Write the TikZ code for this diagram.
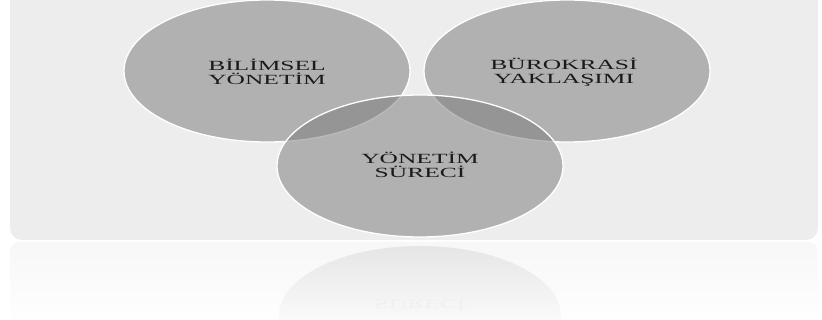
\documentclass[tikz,border=0pt]{standalone}
\usepackage{fontspec}
\setmainfont{Liberation Serif}
\usetikzlibrary{shapes.geometric}
\definecolor{panel}{HTML}{EDEDED}
\definecolor{reflpanel}{HTML}{F7F7F7}
\definecolor{circfill}{HTML}{7D7D7D}
\definecolor{txt}{HTML}{1A1A1A}
\tikzset{
  venn/.style={ellipse, minimum width=286pt, minimum height=142pt, inner sep=0pt,
    fill=circfill, fill opacity=0.53, draw=white, draw opacity=1, line width=1.3pt},
  lbl/.style={text=txt, align=center, font=\fontsize{14}{13.5}\selectfont, text opacity=1},
}
\newcommand{\wide}[1]{\scalebox{1.82}[1]{#1}}
\begin{document}
\begin{tikzpicture}[x=1pt,y=-1pt]
\useasboundingbox (0,0) rectangle (822,320);
\fill[white] (0,0) rectangle (822,320);
% reflection of panel
\shade[top color=reflpanel, bottom color=white, rounded corners=10pt] (10,242) rectangle (818,330);
% reflection of bottom ellipse
\begin{scope}
\clip (420,316) ellipse [x radius=141pt, y radius=70pt];
\shade[top color=black!10, bottom color=black!2] (270,245) rectangle (570,320);
\end{scope}
\node[text=black!6, font=\fontsize{14}{13.5}\selectfont, yscale=-1] (refl) at (420,305) {\wide{SÜRECİ}};
% panel
\fill[panel, rounded corners=12pt] (10,-12) rectangle (818,240);
% circles
\node[venn] (bil) at (267,71) {};
\node[venn] (bur) at (567,71) {};
\node[venn] (sur) at (420,166) {};
\node[lbl] (tbil) at (267,72) {\wide{BİLİMSEL}\\\wide{YÖNETİM}};
\node[lbl] (tbur) at (564,72) {\wide{BÜROKRASİ}\\\wide{YAKLAŞIMI}};
\node[lbl] (tsur) at (420,165) {\wide{YÖNETİM}\\\wide{SÜRECİ}};
\end{tikzpicture}
\end{document}
